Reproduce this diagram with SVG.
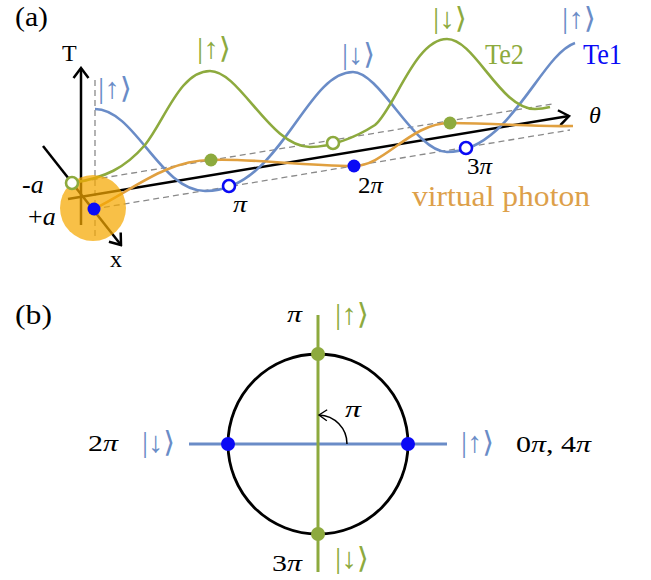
<svg xmlns="http://www.w3.org/2000/svg" width="651" height="580" viewBox="0 0 651 580">
<defs>
<style>
.t{font-family:"Liberation Serif","Times New Roman",serif;fill:#000}
.i{font-style:italic}
.ket{font-family:"Liberation Serif","DejaVu Serif",serif;font-size:29px}
.kb{fill:#6A8CC7}
.kg{fill:#8DAA3E}
.ax{stroke:#000;stroke-width:2.5;fill:none}
.dash{stroke:#8a8a8a;stroke-width:1.3;stroke-dasharray:6 4;fill:none}
.cb{stroke:#6A8CC7;stroke-width:2.6;fill:none}
.cg{stroke:#8DAA3E;stroke-width:2.6;fill:none}
.co{stroke:#E0A040;stroke-width:2.6;fill:none}
.dgf{fill:#8DAA3E}
.dgo{fill:#fff;stroke:#8DAA3E;stroke-width:2.6}
.dbf{fill:#0A0AF5}
.dbo{fill:#fff;stroke:#0A0AF5;stroke-width:2.6}
</style>
<marker id="ar" viewBox="-12 -10 14 20" markerWidth="14" markerHeight="20" refX="0" refY="0" orient="auto" markerUnits="userSpaceOnUse">
<path d="M-10,-7.5 L0,0 L-10,7.5" fill="none" stroke="#000" stroke-width="2.5"/>
</marker>
<marker id="ar2" viewBox="-10 -8 12 16" markerWidth="12" markerHeight="16" refX="0" refY="0" orient="auto" markerUnits="userSpaceOnUse">
<path d="M-8,-5.5 L0,0 L-8,5.5" fill="none" stroke="#000" stroke-width="1.4"/>
</marker>
</defs>
<rect width="651" height="580" fill="#fff"/>

<g id="panel-a">
<text class="t" x="15" y="25.5" font-size="27" textLength="33" lengthAdjust="spacingAndGlyphs">(a)</text>

<g id="guides">
<line class="dash" x1="95" y1="80" x2="95" y2="240"/>
<line class="dash" x1="72" y1="183" x2="552" y2="104"/>
<line class="dash" x1="94" y1="209" x2="570" y2="130"/>
</g>

<g id="axes">
<line class="ax" x1="81" y1="225" x2="81" y2="68" marker-end="url(#ar)"/>
<line class="ax" x1="43" y1="146" x2="121" y2="245" marker-end="url(#ar)"/>
<line class="ax" x1="68" y1="199" x2="569" y2="116" marker-end="url(#ar)"/>
</g>

<g id="curve-te1">
<path class="cb" d="M95,109 C135,109 160,191 205,191 C280,192 305,72 353,72 C380,72 415,152 447,152 C510,152 540,55 575,43"/>
</g>
<g id="curve-te2">
<path class="cg" d="M72,183 C105,178 125,168 145,145 C165,120 180,71 210,71 C240,71 270,147 310,147 C330,147 355,138 375,125 C395,108 415,39 447,39 C475,39 500,109 535,109 C542,109 546,108 550,107"/>
</g>
<g id="curve-photon">
<path class="co" d="M94,209 C130,192 165,160 211,160 C250,158 300,166 354,166 C385,166 410,123 450,123 C500,123 530,127 573,126"/>
</g>

<g id="photon-blob">
<circle cx="93" cy="208" r="33" fill="#F5A800" fill-opacity="0.72"/>
</g>

<g id="points">
<circle class="dgo" cx="72" cy="183" r="6"/>
<circle class="dbf" cx="94" cy="209" r="6.5"/>
<circle class="dgf" cx="211" cy="160" r="6.5"/>
<circle class="dbo" cx="229" cy="186" r="6"/>
<circle class="dgo" cx="333" cy="143" r="6"/>
<circle class="dbf" cx="354" cy="166" r="6.5"/>
<circle class="dgf" cx="450" cy="123" r="6.5"/>
<circle class="dbo" cx="466" cy="148" r="6"/>
</g>

<g id="labels-a">
<text class="t" x="62" y="61" font-size="24">T</text>
<text class="t" x="110" y="267" font-size="24">x</text>
<text class="t" x="22" y="193" font-size="26">-<tspan class="i">a</tspan></text>
<text class="t" x="28" y="225" font-size="26">+<tspan class="i">a</tspan></text>
<text class="t i" x="589" y="123" font-size="24">θ</text>
<text class="t i" x="233" y="212" font-size="23" textLength="14" lengthAdjust="spacingAndGlyphs">π</text>
<text class="t" x="358" y="193" font-size="23" textLength="25" lengthAdjust="spacingAndGlyphs">2<tspan class="i">π</tspan></text>
<text class="t" x="467" y="174" font-size="23" textLength="25" lengthAdjust="spacingAndGlyphs">3<tspan class="i">π</tspan></text>
<text class="t" x="412" y="206" font-size="30" style="fill:#DDA04A" textLength="178" lengthAdjust="spacingAndGlyphs">virtual photon</text>
<text class="t" x="485" y="64" font-size="29" style="fill:#8DAA3E" textLength="39" lengthAdjust="spacingAndGlyphs">Te2</text>
<text class="t" x="583" y="64" font-size="29" style="fill:#0A0AF5" textLength="39" lengthAdjust="spacingAndGlyphs">Te1</text>
<text class="ket kb" x="98" y="98" textLength="34" lengthAdjust="spacingAndGlyphs">|↑⟩</text>
<text class="ket kg" x="197" y="58" textLength="34" lengthAdjust="spacingAndGlyphs">|↑⟩</text>
<text class="ket kb" x="342" y="64" textLength="33" lengthAdjust="spacingAndGlyphs">|↓⟩</text>
<text class="ket kg" x="433" y="28" textLength="34" lengthAdjust="spacingAndGlyphs">|↓⟩</text>
<text class="ket kb" x="562" y="28" textLength="34" lengthAdjust="spacingAndGlyphs">|↑⟩</text>
</g>
</g>

<g id="panel-b">
<text class="t" x="15" y="324" font-size="27" textLength="37" lengthAdjust="spacingAndGlyphs">(b)</text>
<g id="circle-b">
<circle cx="318" cy="444" r="90" fill="none" stroke="#000" stroke-width="2.8"/>
</g>
<g id="connectors-b">
<line x1="189" y1="444" x2="447" y2="444" stroke="#6A8CC7" stroke-width="3"/>
<line x1="318" y1="315" x2="318" y2="572" stroke="#8DAA3E" stroke-width="3"/>
<path d="M347,444 A29,29 0 0 0 319,415" fill="none" stroke="#000" stroke-width="1.5" marker-end="url(#ar2)"/>
</g>
<g id="points-b">
<circle class="dgf" cx="318" cy="354" r="7"/>
<circle class="dgf" cx="318" cy="534" r="7"/>
<circle class="dbf" cx="228" cy="444" r="7"/>
<circle class="dbf" cx="408" cy="444" r="7"/>
</g>
<g id="labels-b">
<text class="t i" x="287" y="322" font-size="24" textLength="15" lengthAdjust="spacingAndGlyphs">π</text>
<text class="t i" x="345" y="417" font-size="24" textLength="16" lengthAdjust="spacingAndGlyphs">π</text>
<text class="t" x="88" y="451" font-size="24" textLength="30" lengthAdjust="spacingAndGlyphs">2<tspan class="i">π</tspan></text>
<text class="t" x="516" y="452" font-size="24" textLength="75" lengthAdjust="spacingAndGlyphs">0<tspan class="i">π</tspan>, 4<tspan class="i">π</tspan></text>
<text class="t" x="272" y="571" font-size="24" textLength="30" lengthAdjust="spacingAndGlyphs">3<tspan class="i">π</tspan></text>
<text class="ket kg" x="335" y="324" textLength="34" lengthAdjust="spacingAndGlyphs">|↑⟩</text>
<text class="ket kb" x="142" y="452" textLength="33" lengthAdjust="spacingAndGlyphs">|↓⟩</text>
<text class="ket kb" x="461" y="452" textLength="33" lengthAdjust="spacingAndGlyphs">|↑⟩</text>
<text class="ket kg" x="335" y="568" textLength="34" lengthAdjust="spacingAndGlyphs">|↓⟩</text>
</g>
</g>
</svg>
